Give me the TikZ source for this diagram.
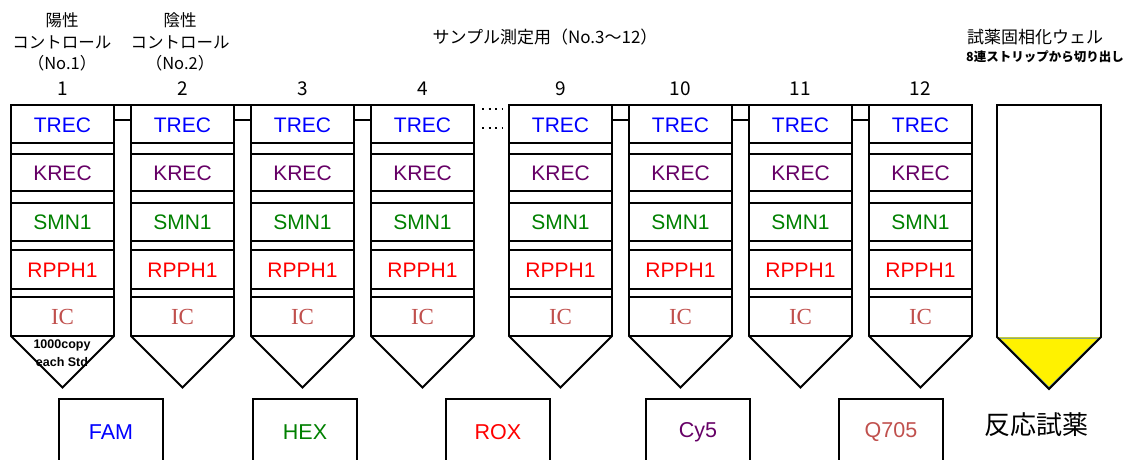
\documentclass[tikz,border=0pt]{standalone}
\usepackage{fontspec}
\setmainfont{Liberation Sans}
\newfontfamily\jp{Noto Sans CJK JP}
\newfontfamily\icfont{Liberation Serif}
\definecolor{trecblue}{RGB}{0,0,255}
\definecolor{krecpurple}{RGB}{102,0,102}
\definecolor{smngreen}{RGB}{0,128,0}
\definecolor{rpphred}{RGB}{255,0,0}
\definecolor{icred}{RGB}{192,80,77}
\definecolor{wellblue}{RGB}{79,129,189}
\tikzset{
  wellline/.style={draw=black,line width=1.8pt,line join=miter},
  tabline/.style={draw=black,line width=1.6pt},
  gene/.style={inner sep=0pt,font=\fontsize{21}{21}\selectfont},
  icstyle/.style={inner sep=0pt,font=\icfont\fontsize{23}{23}\selectfont,text=icred},
  toplab/.style={inner sep=0pt,font=\jp\fontsize{16.5}{16.5}\selectfont},
  numlab/.style={inner sep=0pt,font=\jp\fontsize{19}{19}\selectfont},
  dyebox/.style={draw=black,line width=1.3pt},
  dyelab/.style={inner sep=0pt,font=\fontsize{21.5}{21.5}\selectfont},
  dotrow/.style={draw=black,line width=2pt,dash pattern=on 2pt off 4.5pt}
}
\begin{document}
\begin{tikzpicture}[x=1pt,y=-1pt]
\useasboundingbox (0,0) rectangle (1130,460);
\clip (0,0) rectangle (1130,460);
% wells
\foreach \xx/\n [count=\i] in {11/1,131/2,251/3,371/4,509/9,629/10,749/11,869/12}{
  \foreach \ya/\yb in {143/154,191/203,241/250,289/297}{
    \draw[wellline] (\xx,\ya) -- ({\xx+103},\ya);
    \draw[wellline] (\xx,\yb) -- ({\xx+103},\yb);
  }
  \draw[wellline] (\xx,336) -- ({\xx+103},336);
  \draw[wellline] (\xx,105) -- ({\xx+103},105) -- ({\xx+103},336) -- ({\xx+51.5},387.5) -- (\xx,336) -- cycle;
  \node[gene,text=trecblue] (trec\i) at ({\xx+51.5},125) {TREC};
  \node[gene,text=krecpurple] (krec\i) at ({\xx+51.5},173) {KREC};
  \node[gene,text=smngreen] (smn\i) at ({\xx+51.5},222) {SMN1};
  \node[gene,text=rpphred] (rpph\i) at ({\xx+51.5},270) {RPPH1};
  \node[icstyle] (ic\i) at ({\xx+51.5},317) {IC};
  \node[numlab] (num\i) at ({\xx+51.5},89) {\n};
}
% connecting tabs
\foreach \xa in {114,234,354,612,732,852}{
  \draw[tabline] (\xa,105) rectangle ({\xa+17},120);
}
% dots between 4 and 9
\draw[dotrow] (482,109) -- (503,109);
\draw[dotrow] (482,128) -- (503,128);
% std label
\node[inner sep=0pt,font=\bfseries\fontsize{12.5}{12.5}\selectfont] (std1) at (62,345) {1000copy};
\node[inner sep=0pt,font=\bfseries\fontsize{12.5}{12.5}\selectfont] (std2) at (62,362) {each Std};
% top labels
\node[toplab] (pos1) at (62,20) {陽性};
\node[toplab] (pos2) at (62,42) {コントロール};
\node[toplab] (pos3) at (62,63) {（No.1）};
\node[toplab] (neg1) at (180,20) {陰性};
\node[toplab] (neg2) at (180,42) {コントロール};
\node[toplab] (neg3) at (180,63) {（No.2）};
\node[toplab,font=\jp\fontsize{17}{17}\selectfont] (samp) at (545,37) {サンプル測定用（No.3～12）};
\node[toplab,font=\jp\fontsize{17}{17}\selectfont] (reag1) at (1035,37) {試薬固相化ウェル};
\node[toplab,font=\jp\bfseries\fontsize{12.5}{12.5}\selectfont] (reag2) at (1045,57) {8連ストリップから切り出し};
% reagent well
\fill[yellow] (997,337) -- (1101,337) -- (1049,389) -- cycle;
\draw[wellblue,line width=1pt] (999,338) -- (1099,338) -- (1049,387.5) -- cycle;
\draw[wellline] (997,105) -- (1101,105) -- (1101,337) -- (1049,389) -- (997,337) -- cycle;
% dye boxes
\foreach \bx/\nm/\col/\tx in {59/fam/trecblue/FAM,253/hex/smngreen/HEX,446/rox/rpphred/ROX,646/cy/krecpurple/Cy5,839/q/icred/Q705}{
  \draw[dyebox] (\bx,480) -- (\bx,399) -- ({\bx+104},399) -- ({\bx+104},480);
  \node[dyelab,text=\col] (\nm) at ({\bx+52},432) {\tx};
}
\node[inner sep=0pt,font=\jp\fontsize{26}{26}\selectfont] (hanno) at (1036,425) {反応試薬};
\end{tikzpicture}
\end{document}
